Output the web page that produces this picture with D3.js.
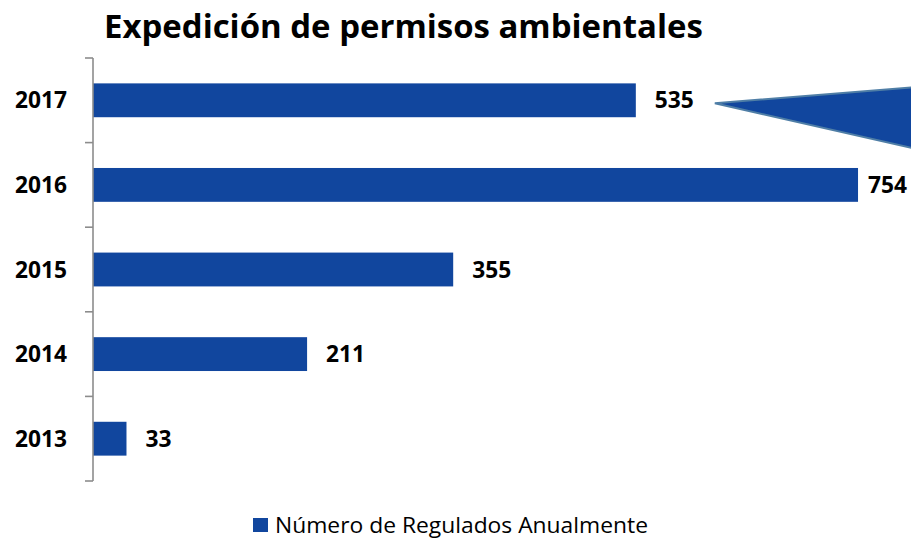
<!DOCTYPE html>
<html><head><meta charset="utf-8">
<script src="https://cdn.jsdelivr.net/npm/d3@7/dist/d3.min.js"></script>
<style>body{margin:0;background:#fff}svg{display:block}</style>
</head><body>
<svg id="c" width="911" height="538"></svg>
<script>
const categories = ["2017","2016","2015","2014","2013"];
const values = [535, 754, 355, 211, 33];
const seriesName = "Número de Regulados Anualmente";
const title = "Expedición de permisos ambientales";

const W = 911, H = 538;
const svg = d3.select("#c");
const font = "'Open Sans', 'Noto Sans', sans-serif";
const blue = "#11469E";
const m = {left: 93, top: 58, bottom: 57};

function fit(sel, target, base) {
  sel.each(function() {
    const len = this.getComputedTextLength();
    if (len > 0) d3.select(this).attr("font-size", base * target / len);
  });
}

const x = d3.scaleLinear().domain([0, 800]).range([m.left, m.left + 811.7]);
const y = d3.scaleBand().domain(categories).range([m.top, 481]).paddingInner(0.6).paddingOuter(0.3);

// bars
svg.append("g").selectAll("rect").data(values).join("rect")
  .attr("x", x(0)).attr("y", (d,i)=>y(categories[i]))
  .attr("width", d=>x(d)-x(0)).attr("height", y.bandwidth())
  .attr("fill", blue);

// axis
const axis = svg.append("g").attr("transform", `translate(${m.left},0)`)
  .call(d3.axisLeft(y).tickSize(0).tickFormat(""));
axis.select(".domain").attr("stroke", "#8c8c8c").attr("stroke-width", 1.6).attr("d", `M0,${m.top}V481`);
const bounds = d3.range(categories.length + 1).map(i => m.top + i * (481 - m.top) / categories.length);
axis.selectAll(".bt").data(bounds).join("line").attr("class","bt")
  .attr("x1", -8).attr("x2", 0).attr("y1", d=>d).attr("y2", d=>d)
  .attr("stroke", "#8c8c8c").attr("stroke-width", 1.6);

// category labels
const cl = svg.append("g").selectAll("text").data(categories).join("text")
  .attr("x", 67).attr("y", d=>y(d)+y.bandwidth()/2).attr("dy","0.36em")
  .attr("text-anchor","end").attr("font-family", font).attr("font-weight","bold")
  .attr("font-size", 18).attr("fill","#000").text(d=>d);
fit(cl, 52, 18);

// value labels
const vl = svg.append("g").selectAll("text").data(values).join("text")
  .attr("x", d=>Math.min(x(d)+19, 868)).attr("y", (d,i)=>y(categories[i])+y.bandwidth()/2).attr("dy","0.36em")
  .attr("font-family", font).attr("font-weight","bold")
  .attr("font-size", cl.attr("font-size")).attr("fill","#000").text(d=>d);

// callout decoration
const cy = y(categories[0]) + y.bandwidth()/2;
svg.append("path")
  .attr("d", `M${x(values[0])+79},${cy+3} L${W+2},${cy-13} L${W+2},${cy+48} Z`)
  .attr("fill", blue).attr("stroke", "#4f7ea6").attr("stroke-width", 2);

// title
const t = svg.append("text").attr("x", 104).attr("y", 38)
  .attr("font-family", font).attr("font-weight","bold").attr("font-size", 28)
  .attr("fill","#000").text(title);
fit(t, 599, 28);

// legend
const lg = svg.append("g");
lg.append("rect").attr("x", 253).attr("y", 518).attr("width", 15).attr("height", 14).attr("fill", blue);
lg.append("text").attr("x", 275).attr("y", 533).attr("font-family", font)
  .attr("font-size", 21).attr("fill","#000")
  .attr("textLength", 373).attr("lengthAdjust", "spacingAndGlyphs").text(seriesName);
</script>
</body></html>
